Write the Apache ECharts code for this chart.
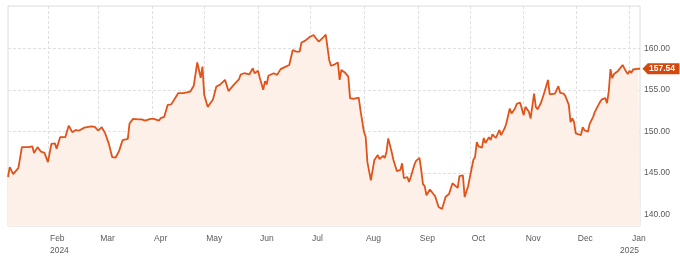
<!DOCTYPE html>
<html>
<head>
<meta charset="utf-8">
<script src="https://cdn.jsdelivr.net/npm/echarts/dist/echarts.min.js"></script>
<style>
  html, body { margin: 0; padding: 0; background: #fff; }
  #chart { width: 680px; height: 258px; }
</style>
</head>
<body>
<div id="chart"></div>
<script>
// daily closes
var dates = [
  '2024-01-09','2024-01-10','2024-01-12','2024-01-15','2024-01-17','2024-01-21','2024-01-23','2024-01-24','2024-01-26','2024-01-28','2024-01-30',
  '2024-02-01','2024-02-03','2024-02-05','2024-02-06','2024-02-08','2024-02-11','2024-02-13','2024-02-15','2024-02-17','2024-02-19','2024-02-22','2024-02-26','2024-02-28',
  '2024-03-01','2024-03-03','2024-03-05','2024-03-07','2024-03-09','2024-03-11','2024-03-13','2024-03-14','2024-03-15','2024-03-18','2024-03-19','2024-03-21','2024-03-24','2024-03-26','2024-03-28','2024-03-31',
  '2024-04-02','2024-04-03','2024-04-05','2024-04-06','2024-04-08','2024-04-10','2024-04-12','2024-04-16','2024-04-17','2024-04-19','2024-04-23','2024-04-25','2024-04-27','2024-04-29','2024-04-30',
  '2024-05-01','2024-05-03','2024-05-06','2024-05-08','2024-05-10','2024-05-13','2024-05-14','2024-05-15','2024-05-18','2024-05-21','2024-05-22','2024-05-24','2024-05-27','2024-05-29','2024-05-30',
  '2024-06-01','2024-06-02','2024-06-04','2024-06-05','2024-06-06','2024-06-07','2024-06-10','2024-06-12','2024-06-14','2024-06-17','2024-06-19','2024-06-21','2024-06-23','2024-06-25','2024-06-26','2024-06-28',
  '2024-07-01','2024-07-03','2024-07-04','2024-07-06','2024-07-07','2024-07-09','2024-07-10','2024-07-12','2024-07-13','2024-07-15','2024-07-17','2024-07-18','2024-07-19','2024-07-21','2024-07-23','2024-07-24','2024-07-26','2024-07-27','2024-07-29','2024-07-30',
  '2024-08-01','2024-08-02','2024-08-03','2024-08-05','2024-08-06','2024-08-07','2024-08-09','2024-08-10','2024-08-12','2024-08-13','2024-08-14','2024-08-15','2024-08-17','2024-08-18','2024-08-20','2024-08-22','2024-08-23','2024-08-24','2024-08-26','2024-08-27','2024-08-28','2024-08-30','2024-08-31',
  '2024-09-02','2024-09-03','2024-09-04','2024-09-05','2024-09-06','2024-09-08','2024-09-10','2024-09-11','2024-09-13','2024-09-15','2024-09-16','2024-09-17','2024-09-19','2024-09-21','2024-09-22','2024-09-24','2024-09-25','2024-09-27','2024-09-28','2024-09-30',
  '2024-10-01','2024-10-03','2024-10-04','2024-10-05','2024-10-06','2024-10-08','2024-10-09','2024-10-10','2024-10-12','2024-10-13','2024-10-14','2024-10-16','2024-10-18','2024-10-19','2024-10-21','2024-10-22','2024-10-23','2024-10-24','2024-10-25','2024-10-27','2024-10-28','2024-10-30','2024-10-31',
  '2024-11-01','2024-11-02','2024-11-04','2024-11-05','2024-11-07','2024-11-08','2024-11-09','2024-11-11','2024-11-13','2024-11-15','2024-11-16','2024-11-19','2024-11-20','2024-11-21','2024-11-22','2024-11-24','2024-11-25','2024-11-27','2024-11-28','2024-11-29','2024-11-30',
  '2024-12-01','2024-12-02','2024-12-04','2024-12-05','2024-12-06','2024-12-08','2024-12-09','2024-12-11','2024-12-12','2024-12-13','2024-12-15','2024-12-16','2024-12-18','2024-12-19','2024-12-20','2024-12-21','2024-12-22','2024-12-23','2024-12-25','2024-12-26','2024-12-28','2024-12-29','2024-12-30','2024-12-31',
  '2025-01-01','2025-01-02','2025-01-03','2025-01-04','2025-01-06','2025-01-07'
];
var prices = [
  144.5,145.7,144.85,145.6,148.1,148.1,148.2,147.4,148.1,147.55,147.4,
  146.3,148.5,148.55,147.9,149.3,149.3,150.7,149.9,150.15,150.1,150.45,150.6,150.55,
  150.1,150.5,149.75,148.55,146.9,146.85,147.65,147.75,148.95,149.1,150.95,151.5,151.45,151.45,151.3,151.5,
  151.5,151.55,151.3,151.6,151.75,153.2,153.25,154.6,154.4,154.6,154.8,155.5,158.3,156.45,157.8,
  154.4,152.95,153.8,155.4,155.6,156.2,156.3,154.85,155.6,156.25,156.85,157.0,156.85,157.6,157.0,
  157.3,156.45,155.0,156.05,155.65,156.7,157.0,156.8,157.5,157.8,158.0,159.8,159.6,159.6,160.7,160.9,
  161.4,161.6,161.3,160.8,160.9,161.4,161.65,158.6,157.9,158.05,158.3,156.2,157.4,157.1,156.6,154.0,153.9,153.8,154.05,152.55,
  149.95,149.35,146.3,144.1,144.1,146.55,147.15,146.65,147.05,146.8,147.55,149.15,147.5,146.55,145.2,145.35,146.15,144.35,144.5,143.9,144.5,145.95,146.45,
  146.8,145.35,143.65,143.4,142.3,143.0,142.45,142.2,140.9,140.65,140.6,142.1,142.45,143.75,143.65,143.2,144.6,144.7,142.1,143.4,
  143.4,146.55,146.9,148.7,148.2,148.05,149.2,148.6,149.3,148.95,149.65,149.2,150.15,149.55,150.35,150.95,151.15,152.75,152.15,152.75,153.3,153.45,153.35,
  151.95,152.95,152.35,151.55,154.55,152.95,152.65,153.45,154.75,156.2,154.45,154.55,154.65,155.45,154.65,154.55,154.25,153.2,151.1,151.55,151.15,
  149.75,149.55,149.55,150.5,150.15,149.95,150.9,151.75,152.35,152.55,153.55,153.85,154.0,153.4,154.8,157.5,156.4,156.9,157.2,157.3,158.0,157.85,157.2,156.9,
  157.3,157.05,157.45,157.3,157.55,157.54
];
var monthNames = ['Jan','Feb','Mar','Apr','May','Jun','Jul','Aug','Sep','Oct','Nov','Dec'];
var yTicks = [140, 145, 150, 155, 160];
var yGrid = [145, 150, 155, 160];
var lastPrice = '157.54';

var lineColor = '#e0531b';
var tagColor = '#d4480c';
var labelColor = '#5a5a5a';
var fontFamily = 'Liberation Sans, Arial, sans-serif';
var fontSize = 8.5;

// x axis runs on UTC timestamps
var monthStarts = [];
for (var m = 1; m <= 12; m++) monthStarts.push(Date.UTC(2024, m, 1));
// the Jan/2025 label sits a little left of its grid line
var labelValues = monthStarts.slice(0, 11);
labelValues.push(Date.UTC(2024, 11, 25, 9));

var seriesData = dates.map(function (d, i) { return [Date.parse(d), prices[i]]; });
var last = seriesData[seriesData.length - 1];

var chart = echarts.init(document.getElementById('chart'));
var option = {
  backgroundColor: '#fff',
  animation: false,
  grid: {
    left: 8, right: 40, top: 6, bottom: 32,
    show: true, borderColor: '#dcdcdc', borderWidth: 1
  },
  xAxis: {
    type: 'value',
    min: Date.UTC(2024, 0, 9),
    max: Date.UTC(2025, 0, 7),
    axisLine: { show: false },
    axisTick: { show: false, customValues: monthStarts },
    splitLine: { show: true, lineStyle: { color: '#e0e0e0', type: [3, 2] } },
    axisLabel: {
      customValues: labelValues,
      align: 'left',
      margin: 7,
      padding: [0, 0, 0, 2],
      color: labelColor,
      fontSize: fontSize,
      lineHeight: 11.5,
      fontFamily: fontFamily,
      formatter: function (v) {
        var d = new Date(v);
        if (d.getUTCMonth() === 1) return 'Feb\n2024';
        if (d.getUTCMonth() === 11 && d.getUTCDate() > 20) return '{p|Jan}\n2025';
        return monthNames[d.getUTCMonth()];
      },
      rich: {
        p: { padding: [0, 0, 0, 12], color: labelColor, fontSize: fontSize, lineHeight: 11.5, fontFamily: fontFamily }
      }
    }
  },
  yAxis: {
    type: 'value',
    position: 'right',
    min: 138.6,
    max: 165.1,
    axisLine: { show: false },
    axisTick: { show: false, customValues: yGrid },
    splitLine: { show: true, lineStyle: { color: '#e0e0e0', type: [3, 2] } },
    axisLabel: {
      customValues: yTicks,
      margin: 4,
      color: labelColor,
      fontSize: fontSize,
      fontFamily: fontFamily,
      formatter: function (v) { return v.toFixed(2); }
    }
  },
  series: [{
    type: 'line',
    data: seriesData,
    symbol: 'none',
    clip: false,
    lineStyle: { color: lineColor, width: 1.8 },
    areaStyle: { color: '#fdf0e8', opacity: 1, origin: 'start' },
    markPoint: {
      silent: true,
      symbol: 'path://M0,6 L6,0 L42,0 L42,12 L6,12 Z',
      symbolSize: [37, 11],
      symbolOffset: [21, 0],
      itemStyle: { color: tagColor },
      label: {
        show: true,
        position: 'inside',
        offset: [1, 0],
        color: '#fff',
        fontSize: fontSize,
        fontWeight: 'bold',
        fontFamily: fontFamily,
        formatter: lastPrice
      },
      data: [{ coord: last }]
    }
  }]
};
chart.setOption(option);
</script>
</body>
</html>
